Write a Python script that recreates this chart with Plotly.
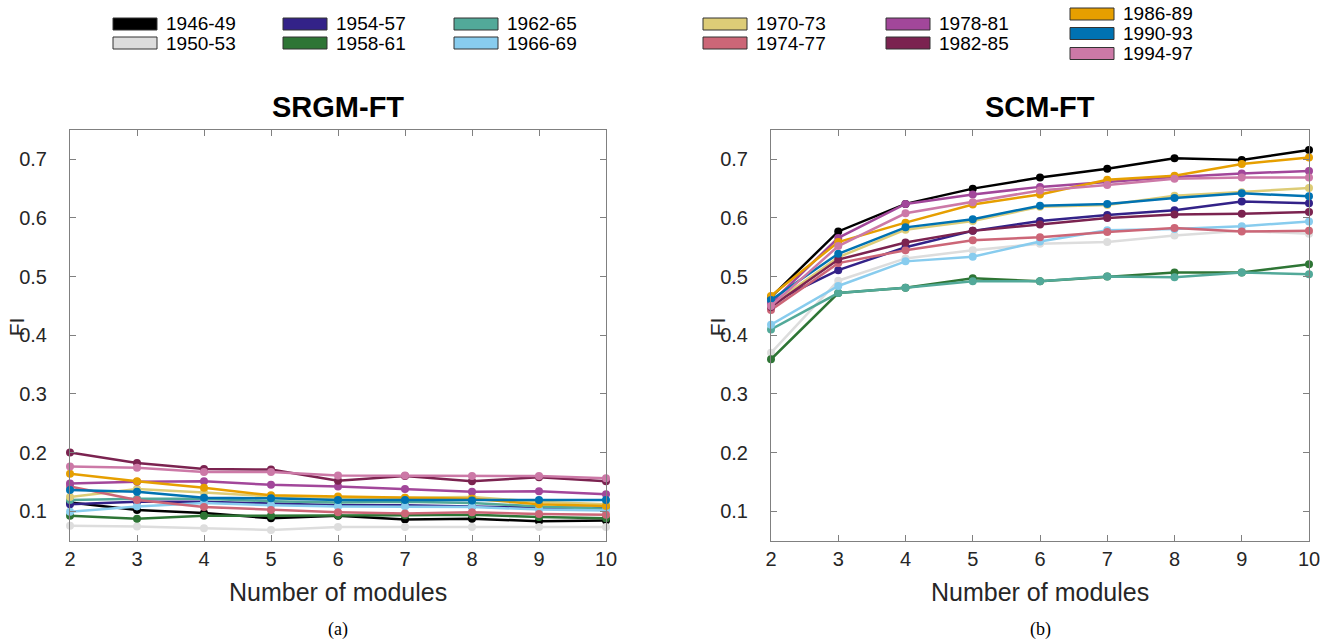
import plotly.graph_objects as go

modules = [2, 3, 4, 5, 6, 7, 8, 9, 10]
periods = ["1946-49", "1950-53", "1954-57", "1958-61", "1962-65", "1966-69",
           "1970-73", "1974-77", "1978-81", "1982-85", "1986-89", "1990-93", "1994-97"]
colors = ["#000000", "#DDDDDD", "#332288", "#2E7535", "#52A999", "#88CCEE",
          "#DDCC77", "#CC6677", "#A2479A", "#7B2350", "#E69F00", "#0072B2", "#CC79A7"]

srgm_values = [
    [0.115, 0.102, 0.097, 0.088, 0.092, 0.086, 0.087, 0.083, 0.084],  # 1946-49
    [0.075, 0.074, 0.071, 0.068, 0.073, 0.073, 0.073, 0.073, 0.073],  # 1950-53
    [0.112, 0.116, 0.116, 0.113, 0.110, 0.110, 0.108, 0.106, 0.106],  # 1954-57
    [0.092, 0.087, 0.092, 0.092, 0.093, 0.093, 0.094, 0.090, 0.088],  # 1958-61
    [0.119, 0.121, 0.121, 0.117, 0.115, 0.116, 0.114, 0.108, 0.104],  # 1962-65
    [0.099, 0.108, 0.114, 0.110, 0.108, 0.108, 0.107, 0.103, 0.101],  # 1966-69
    [0.124, 0.138, 0.132, 0.125, 0.122, 0.123, 0.124, 0.116, 0.112],  # 1970-73
    [0.142, 0.119, 0.107, 0.102, 0.098, 0.096, 0.098, 0.095, 0.094],  # 1974-77
    [0.147, 0.150, 0.151, 0.145, 0.142, 0.138, 0.133, 0.134, 0.129],  # 1978-81
    [0.200, 0.182, 0.172, 0.171, 0.152, 0.160, 0.151, 0.158, 0.151],  # 1982-85
    [0.164, 0.151, 0.140, 0.127, 0.125, 0.123, 0.121, 0.112, 0.109],  # 1986-89
    [0.136, 0.133, 0.123, 0.122, 0.119, 0.119, 0.118, 0.119, 0.119],  # 1990-93
    [0.176, 0.174, 0.167, 0.167, 0.161, 0.161, 0.160, 0.160, 0.156],  # 1994-97
]

scm_values = [
    [0.465, 0.577, 0.624, 0.650, 0.669, 0.684, 0.702, 0.699, 0.716],  # 1946-49
    [0.370, 0.493, 0.531, 0.545, 0.556, 0.559, 0.570, 0.578, 0.573],  # 1950-53
    [0.455, 0.511, 0.550, 0.578, 0.595, 0.605, 0.613, 0.628, 0.625],  # 1954-57
    [0.359, 0.472, 0.481, 0.497, 0.492, 0.500, 0.507, 0.507, 0.521],  # 1958-61
    [0.410, 0.472, 0.481, 0.492, 0.492, 0.500, 0.499, 0.507, 0.504],  # 1962-65
    [0.418, 0.484, 0.526, 0.534, 0.560, 0.579, 0.581, 0.586, 0.594],  # 1966-69
    [0.452, 0.533, 0.580, 0.595, 0.619, 0.622, 0.638, 0.644, 0.651],  # 1970-73
    [0.443, 0.523, 0.545, 0.562, 0.567, 0.576, 0.583, 0.577, 0.578],  # 1974-77
    [0.455, 0.566, 0.624, 0.640, 0.653, 0.662, 0.670, 0.676, 0.680],  # 1978-81
    [0.448, 0.529, 0.558, 0.578, 0.589, 0.600, 0.606, 0.607, 0.610],  # 1982-85
    [0.467, 0.559, 0.592, 0.623, 0.640, 0.665, 0.672, 0.692, 0.703],  # 1986-89
    [0.460, 0.539, 0.584, 0.598, 0.621, 0.624, 0.634, 0.642, 0.637],  # 1990-93
    [0.450, 0.552, 0.608, 0.627, 0.647, 0.656, 0.667, 0.669, 0.669],  # 1994-97
]

y_ticks = [0.1, 0.2, 0.3, 0.4, 0.5, 0.6, 0.7]
titles = ["SRGM-FT", "SCM-FT"]
captions = ["(a)", "(b)"]

W, H = 1336, 644


def px(x):
    return x / W


def py(y):
    return 1 - y / H


fig = go.Figure()

for vals, xa, ya in [(srgm_values, "x", "y"), (scm_values, "x2", "y2")]:
    for name, col, v in zip(periods, colors, vals):
        fig.add_trace(go.Scatter(
            x=modules, y=v, name=name, mode="lines+markers",
            line=dict(color=col, width=2.5),
            marker=dict(color=col, size=8),
            xaxis=xa, yaxis=ya, showlegend=False, cliponaxis=False,
        ))

tickfont = dict(family="Liberation Sans, Arial", size=20, color="#262626")
axis_common = dict(
    showline=True, linecolor="#808080", linewidth=1, mirror="ticks",
    ticks="inside", ticklen=6, tickcolor="#808080", tickwidth=1,
    showgrid=False, zeroline=False, tickfont=tickfont, automargin=False,
)

x_domains = [(70, 606), (771, 1309)]
y_top, y_bot = 130, 540.5

fig.update_layout(
    width=W, height=H, autosize=False,
    margin=dict(l=0, r=0, t=0, b=0, pad=0),
    plot_bgcolor="white", paper_bgcolor="white",
    xaxis=dict(domain=[px(x_domains[0][0]), px(x_domains[0][1])], range=[2, 10],
               tickvals=modules, anchor="y", **axis_common),
    yaxis=dict(domain=[py(y_bot), py(y_top)], range=[0.05, 0.75],
               tickvals=y_ticks, anchor="x", ticklabelstandoff=18, **axis_common),
    xaxis2=dict(domain=[px(x_domains[1][0]), px(x_domains[1][1])], range=[2, 10],
                tickvals=modules, anchor="y2", **axis_common),
    yaxis2=dict(domain=[py(y_bot), py(y_top)], range=[0.05, 0.75],
                tickvals=y_ticks, anchor="x2", ticklabelstandoff=18, **axis_common),
)

annotations = []
for (x0, x1), title, cap in zip(x_domains, titles, captions):
    cx = (x0 + x1) / 2
    annotations.append(dict(x=px(cx), y=py(107), xref="paper", yref="paper",
                            text="<b>" + title + "</b>", showarrow=False,
                            font=dict(family="Liberation Sans, Arial", size=29, color="#000000"),
                            xanchor="center", yanchor="middle"))
    annotations.append(dict(x=px(cx), y=py(592), xref="paper", yref="paper",
                            text="Number of modules", showarrow=False,
                            font=dict(family="Liberation Sans, Arial", size=25, color="#262626"),
                            xanchor="center", yanchor="middle"))
    annotations.append(dict(x=px(x0 - 54), y=py((y_top + y_bot) / 2 - 8), xref="paper", yref="paper",
                            text="FI", showarrow=False, textangle=-90,
                            font=dict(family="Liberation Sans, Arial", size=21, color="#262626"),
                            xanchor="center", yanchor="middle"))
    annotations.append(dict(x=px(cx), y=py(629), xref="paper", yref="paper",
                            text=cap, showarrow=False,
                            font=dict(family="Liberation Serif, DejaVu Serif", size=18, color="#000000"),
                            xanchor="center", yanchor="middle"))

# Legend drawn as patches with labels
legend_cols = [(113, [0, 1]), (283, [2, 3]), (454, [4, 5]), (703, [6, 7]), (886, [8, 9]), (1070, [10, 11, 12])]
shapes = []
for col_x, idxs in legend_cols:
    if len(idxs) == 2:
        rows = [24, 43]
    else:
        rows = [14, 33.5, 53.5]
    for idx, ry in zip(idxs, rows):
        shapes.append(dict(type="rect", xref="paper", yref="paper",
                           x0=px(col_x), x1=px(col_x + 44), y0=py(ry + 6), y1=py(ry - 6),
                           fillcolor=colors[idx], line=dict(color="#333333", width=1)))
        annotations.append(dict(x=px(col_x + 51), y=py(ry), xref="paper", yref="paper",
                                text=periods[idx], showarrow=False,
                                font=dict(family="Liberation Sans, Arial", size=19, color="#000000"),
                                xanchor="left", yanchor="middle"))

fig.update_layout(annotations=annotations, shapes=shapes)

fig.write_html("out.html", config={"displayModeBar": False},
               post_script="document.body.style.margin='0px';document.body.style.overflow='hidden';")
